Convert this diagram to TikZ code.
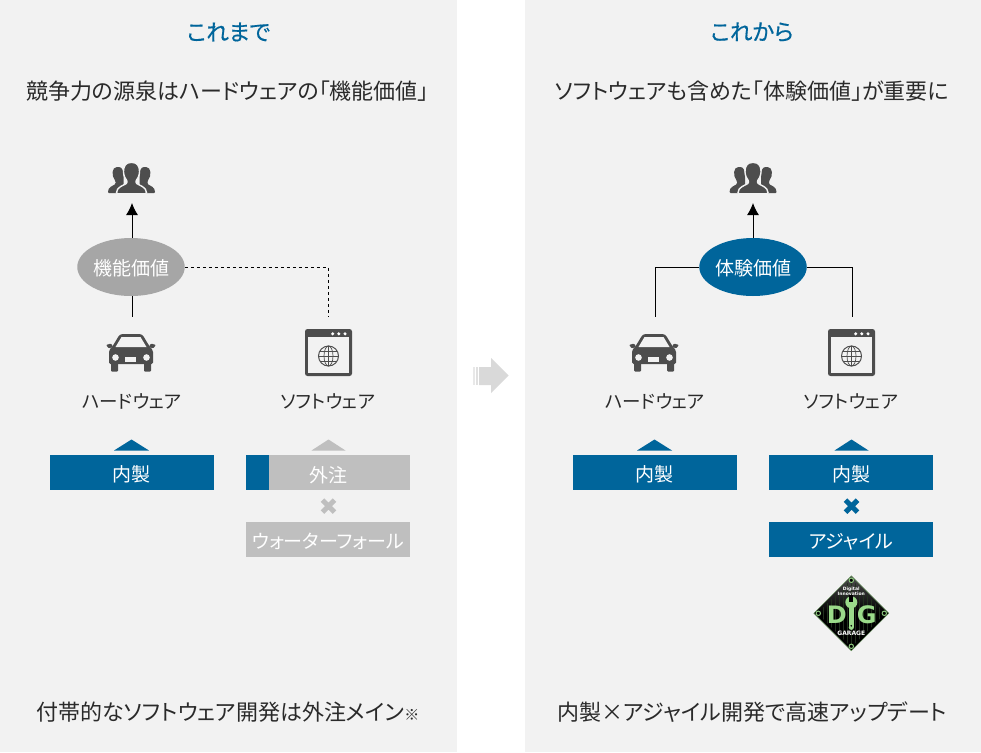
\documentclass[tikz,border=0pt]{standalone}
\usepackage{fontspec}
\setmainfont{Noto Sans CJK JP}[RawFeature=+palt]
\newfontfamily\titlefont{Noto Sans CJK JP}[RawFeature=+palt,FakeBold=0.5]
\newfontfamily\badgefont{DejaVu Sans}
\usetikzlibrary{shapes.geometric,arrows.meta}
\definecolor{panel}{HTML}{F2F2F2}
\definecolor{brand}{HTML}{00659B}
\definecolor{muted}{HTML}{BFBFBF}
\definecolor{ovalgray}{HTML}{A6A6A6}
\definecolor{icon}{HTML}{4D4D4D}
\definecolor{ink}{HTML}{2A2A2A}
\definecolor{lime}{HTML}{9BDB8A}
\newcommand{\dn}[1]{\raisebox{-1.5pt}[14pt][0pt]{#1}}
\tikzset{
  x=1pt,y=-1pt,
  title/.style={text=brand,font=\titlefont\fontsize{22.5}{22}\selectfont,inner sep=0pt,anchor=center},
  lead/.style={text=ink,font=\fontsize{22}{22}\selectfont,inner sep=0pt,anchor=center},
  lbl/.style={text=ink,font=\fontsize{18.5}{18}\selectfont,inner sep=0pt,anchor=center},
  bar/.style={rectangle,minimum width=164pt,minimum height=35pt,inner sep=0pt,text=white,font=\fontsize{19}{19}\selectfont,anchor=center},
  oval/.style={ellipse,minimum width=105pt,minimum height=58pt,inner sep=0pt,text=white,font=\fontsize{19}{19}\selectfont,anchor=center},
  link/.style={line width=1pt,black},
  dashlink/.style={line width=1pt,black,dash pattern=on 3.5pt off 2.5pt},
  people/.pic={
    \foreach \s in {-1,1}{
      \fill[icon,rounded corners=1pt] (\s*23.5,15) .. controls (\s*23.5,9) and (\s*19,8) .. (\s*16,6) -- (\s*16,3) .. controls (\s*20,-2) and (\s*20,-11) .. (\s*13.5,-11) .. controls (\s*9,-11) and (\s*8,-6) .. (\s*8,-2) -- (\s*8,15) -- cycle;
    }
    \fill[icon,rounded corners=1pt,draw=panel,line width=1.4pt] (-15,15.7) .. controls (-15,9) and (-8,7.5) .. (-4.5,5) -- (-4.5,2.5) .. controls (-9.5,-3) and (-9.5,-15.5) .. (0,-15.5) .. controls (9.5,-15.5) and (9.5,-3) .. (4.5,2.5) -- (4.5,5) .. controls (8,7.5) and (15,9) .. (15,15.7) -- cycle;
  },
  car/.pic={
    \fill[icon,rounded corners=1.5pt] (-22,12.5) -- (-22,-1) -- (-18,-6) -- (-12,-16) -- (-10,-17.5) -- (10,-17.5) -- (12,-16) -- (18,-6) -- (22,-1) -- (22,12.5) -- cycle;
    \fill[icon,rounded corners=1pt] (-20,10) rectangle (-13,20);
    \fill[icon,rounded corners=1pt] (13,10) rectangle (20,20);
    \fill[icon,rounded corners=1pt] (-25,-6.5) -- (-20,-8) -- (-18,-5) -- (-22,-3) -- cycle;
    \fill[icon,rounded corners=1pt] (25,-6.5) -- (20,-8) -- (18,-5) -- (22,-3) -- cycle;
    \fill[panel] (-9.5,-14.5) -- (9.5,-14.5) -- (15.5,-4.5) -- (-15.5,-4.5) -- cycle;
    \fill[panel] (-15.5,6) circle (3.3);
    \fill[panel] (15.5,6) circle (3.3);
    \fill[panel] (-6,5) rectangle (5,10);
  },
  browser/.pic={
    \fill[icon,rounded corners=2.5pt] (-23.5,-23.5) rectangle (23.5,23.5);
    \fill[panel] (-20.5,-15.5) rectangle (20.5,20.5);
    \foreach \dx in {4.2,10.3,16.5} \fill[white] (\dx,-18.7) circle (1.7);
    \draw[icon,line width=1pt] (0,3.5) circle (10);
    \draw[icon,line width=0.7pt] (0,3.5) ellipse (4.5 and 10);
    \draw[icon,line width=0.7pt] (0,-6.5) -- (0,13.5) (-10,3.5) -- (10,3.5) (-8.8,-1.5) -- (8.8,-1.5) (-8.8,8.5) -- (8.8,8.5);
  },
  times/.pic={
    \draw[line width=5pt,pic actions,line cap=butt] (-6,-6) -- (6,6) (-6,6) -- (6,-6);
  },
}
\begin{document}
\begin{tikzpicture}
\useasboundingbox (0,0) rectangle (981,752);
\fill[white] (0,0) rectangle (981,752);
\fill[panel] (0,0) rectangle (457,752);
\fill[panel] (525,0) rectangle (981,752);

% right-pointing transition arrow
\fill[black!15] (479,367) -- (491,367) -- (491,358) -- (508.5,375.5) -- (491,393) -- (491,385) -- (479,385) -- cycle;
\fill[black!9] (473,367) rectangle (475,385);
\fill[black!12] (476,367) rectangle (478,385);

% left panel
\node[title] (ltitle) at (228.5,32) {これまで};
\node[lead] (llead) at (227.5,91.5) {競争力の源泉はハードウェアの「機能価値」};
\pic at (131.5,178) {people};
\coordinate (lusers) at (132,203);
\node[oval,fill=ovalgray] (lval) at (131,267) {\dn{機能価値}};
\coordinate (lhwtop) at (132,317);
\coordinate (lswtop) at (328,317);
\coordinate (lvaltop) at (132,238);
\coordinate (lvalbot) at (132,296);
\draw[link,-{Latex[length=12pt,width=12pt]}] (lvaltop) -- (lusers);
\draw[link] (lvalbot) -- (lhwtop);
\draw[dashlink] (lval.east) -| (lswtop);
\pic at (131,351.5) {car};
\pic at (328.5,352.5) {browser};
\node[lbl] (lhw) at (132,401) {ハードウェア};
\node[lbl] (lsw) at (328,401) {ソフトウェア};
\fill[brand] (114,450.5) -- (131.5,439.5) -- (149,450.5) -- cycle;
\node[bar,fill=brand] (lin) at (131.7,472.7) {\dn{内製}};
\fill[muted] (311.5,450.5) -- (328.5,439.5) -- (345.5,450.5) -- cycle;
\node[bar,fill=muted] (lout) at (328,472.7) {};
\fill[brand] (246,455.2) rectangle (269,490.2);
\node[text=white,font=\fontsize{19}{19}\selectfont,inner sep=0pt] (louttxt) at (328,475) {外注};
\pic[muted] at (328.5,506.2) {times};
\node[bar,fill=muted] (lwf) at (328,539.7) {\dn{ウォーターフォール}};
\node[lead] (lfoot) at (228,712.5) {付帯的なソフトウェア開発は外注メイン{\fontsize{15}{15}\selectfont ※}};

% right panel
\node[title] (rtitle) at (752,32) {これから};
\node[lead] (rlead) at (752,91.5) {ソフトウェアも含めた「体験価値」が重要に};
\pic at (753,178) {people};
\coordinate (rusers) at (753,203);
\node[oval,fill=brand] (rval) at (753,267) {\dn{体験価値}};
\coordinate (rhwtop) at (655,317);
\coordinate (rswtop) at (852,317);
\draw[link,-{Latex[length=12pt,width=12pt]}] (rval) -- (rusers);
\draw[link] (rval.west) -| (rhwtop);
\draw[link] (rval.east) -| (rswtop);
\pic at (654,351.5) {car};
\pic at (851.5,352.5) {browser};
\node[lbl] (rhw) at (655,401) {ハードウェア};
\node[lbl] (rsw) at (851,401) {ソフトウェア};
\fill[brand] (637,450.5) -- (654.5,439.5) -- (672,450.5) -- cycle;
\node[bar,fill=brand] (rin) at (654.5,472.7) {\dn{内製}};
\fill[brand] (834.5,450.5) -- (851.5,439.5) -- (868.5,450.5) -- cycle;
\node[bar,fill=brand] (rin2) at (851,472.7) {\dn{内製}};
\pic[brand] at (851.5,506.2) {times};
\node[bar,fill=brand] (rag) at (851,539.7) {\dn{アジャイル}};
\node[lead] (rfoot) at (752,712.5) {内製×アジャイル開発で高速アップデート};

% DIG GARAGE badge
\begin{scope}[shift={(851.3,613.3)}]
  \shade[top color=black!70,bottom color=black,middle color=black] (0,-37.5) -- (37.5,0) -- (0,37.5) -- (-37.5,0) -- cycle;
  \begin{scope}
    \clip (0,-34) -- (34,0) -- (0,34) -- (-34,0) -- cycle;
    \draw[lime!22!black,line width=0.3pt,step=4] (-36,-36) grid (36,36);
  \end{scope}
  \draw[lime!70!black,line width=0.5pt] (0,-37.5) -- (37.5,0) -- (0,37.5) -- (-37.5,0) -- cycle;
  \foreach \a/\b in {0/-33,33/0,0/33,-33/0} \draw[lime!90!black,line width=1pt,fill=black] (\a,\b) circle (2.2);
  \node[text=lime,font=\badgefont\bfseries\fontsize{24}{24}\selectfont,inner sep=0pt] (digd) at (-14.5,1) {D};
  \node[text=lime,font=\badgefont\bfseries\fontsize{24}{24}\selectfont,inner sep=0pt] (digg) at (15.5,1) {G};
  % wrench between the two letters
  \fill[lime] (-2.6,-8) rectangle (2.6,14);
  \fill[lime] (0,14) circle (2.6);
  \fill[lime] (0,-11) circle (6);
  \fill[black] (-2,-18) rectangle (2,-11);
  \fill[black] (0,12.5) circle (0.9);
  \node[text=white,font=\badgefont\bfseries\fontsize{4.5}{5}\selectfont,inner sep=0pt,align=center] (digtop) at (0,-22) {Digital\\Innovation};
  \node[text=white,font=\badgefont\bfseries\fontsize{6}{6}\selectfont,inner sep=0pt] (digbot) at (0,20) {GARAGE};
\end{scope}
\end{tikzpicture}
\end{document}
